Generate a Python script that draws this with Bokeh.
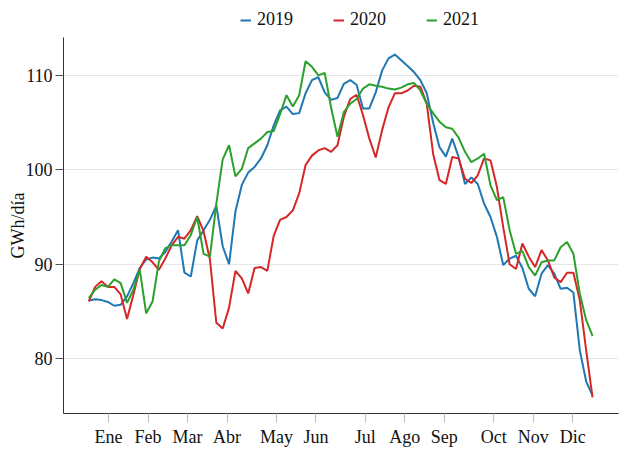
import numpy as np
from bokeh.plotting import figure
from bokeh.layouts import column
from bokeh.models import Range1d, FixedTicker, Legend, LegendItem
from bokeh.embed import file_html
from bokeh.resources import INLINE

meses = ["Ene", "Feb", "Mar", "Abr", "May", "Jun", "Jul", "Ago", "Sep", "Oct", "Nov", "Dic"]
semana_mes = [3, 7, 11, 15, 20, 24, 29, 33, 37, 42, 46, 50]
y_ticks = [80, 90, 100, 110]
series = ["2019", "2020", "2021"]
colores = ["#1f77b4", "#d62728", "#2ca02c"]

v2019 = [86.16, 86.3, 86.2, 86.0, 85.6, 85.7, 86.6, 88.0, 89.6, 90.5,
         90.7, 90.6, 91.3, 92.4, 93.6, 89.1, 88.7, 92.5, 93.6, 94.7,
         96.2, 91.9, 90.0, 95.6, 98.4, 99.7, 100.3, 101.2, 102.6, 104.7,
         106.3, 106.7, 105.9, 106.0, 108.1, 109.5, 109.8, 108.2, 107.4, 107.6,
         109.1, 109.5, 109.0, 106.5, 106.5, 108.2, 110.5, 111.8, 112.2, 111.6,
         111.0, 110.35, 109.5, 108.1, 105.0, 102.4, 101.4, 103.3, 101.35, 98.5,
         99.2, 98.5, 96.4, 95.0, 92.9, 89.9, 90.6, 90.9, 89.6, 87.4,
         86.6, 89.0, 89.9, 89.0, 87.4, 87.5, 87.0, 80.9, 77.6, 76.1]

v2020 = [86.05, 87.6, 88.2, 87.6, 87.6, 86.8, 84.2, 86.8, 89.5, 90.8,
         90.2, 89.4, 90.6, 92.0, 92.9, 92.7, 93.6, 95.1, 93.5, 90.5,
         83.8, 83.2, 85.4, 89.3, 88.5, 86.9, 89.6, 89.7, 89.3, 93.0,
         94.7, 95.0, 95.7, 97.5, 100.5, 101.5, 102.05, 102.3, 101.9, 102.6,
         105.6, 107.5, 107.95, 105.8, 103.3, 101.3, 104.2, 106.6, 108.1, 108.1,
         108.4, 108.9, 108.8, 107.0, 101.7, 98.9, 98.5, 101.35, 101.2, 99.05,
         98.6, 99.4, 101.2, 101.0, 98.2, 93.9, 90.0, 89.5, 92.2, 90.8,
         89.7, 91.5, 90.4, 88.6, 88.1, 89.1, 89.1, 86.2, 80.9, 75.9]

v2021 = [86.4, 87.3, 87.8, 87.6, 88.4, 88.0, 85.9, 87.3, 89.4, 84.8,
         86.05, 90.3, 91.7, 92.0, 92.0, 92.0, 93.1, 95.0, 91.1, 90.8,
         96.4, 101.1, 102.6, 99.3, 100.1, 102.3, 102.8, 103.3, 104.0, 104.1,
         105.9, 107.9, 106.7, 107.9, 111.5, 110.9, 110.0, 110.25, 106.6, 103.5,
         106.1, 107.0, 107.5, 108.6, 109.05, 108.9, 108.8, 108.6, 108.5, 108.7,
         109.05, 109.2, 108.4, 107.0, 106.0, 105.1, 104.5, 104.35, 103.4, 101.9,
         100.8, 101.2, 101.7, 98.35, 96.8, 97.1, 93.6, 91.1, 91.4, 89.7,
         88.8, 90.2, 90.4, 90.4, 91.8, 92.35, 91.1, 86.9, 84.1, 82.4]

valores = [v2019, v2020, v2021]
semana = np.linspace(1, 52, len(v2019))

FONT = "Liberation Serif"
W = 622

# --- legend strip on top (its frame is aligned with the main chart's frame) ---
pl = figure(width=W, height=37, output_backend="svg", toolbar_location=None,
            x_range=Range1d(-10, -9), y_range=Range1d(0, 1),
            min_border_left=63, min_border_right=4, min_border_top=0, min_border_bottom=0)
pl.axis.visible = False
pl.grid.visible = False
pl.outline_line_color = None
items = []
for nombre, vals, col in zip(series, valores, colores):
    r = pl.line(semana, vals, line_color=col, line_width=2)
    items.append(LegendItem(label=nombre, renderers=[r]))
legend = Legend(items=items, orientation="horizontal", location=(177, 7),
                glyph_width=11, glyph_height=18, label_height=18, label_standoff=6,
                spacing=40, padding=0, margin=0, border_line_color=None,
                background_fill_alpha=0, label_text_font=FONT,
                label_text_font_size="18px", label_text_color="#111111")
pl.add_layout(legend)

# --- main chart ---
p = figure(width=W, height=412, output_backend="svg", toolbar_location=None,
           x_range=Range1d(-1.56, 54.63), y_range=Range1d(74.19, 114.01),
           min_border_left=63, min_border_right=4, min_border_top=0, min_border_bottom=35)
p.outline_line_color = None
p.background_fill_color = "white"
p.border_fill_color = "white"

for vals, col in zip(valores, colores):
    p.line(semana, vals, line_color=col, line_width=2)

p.xgrid.grid_line_color = None
p.ygrid.grid_line_color = "#e6e6e6"
p.ygrid.grid_line_width = 1

xa = p.xaxis[0]
xa.ticker = FixedTicker(ticks=semana_mes)
xa.major_label_overrides = {t: m for t, m in zip(semana_mes, meses)}
xa.minor_tick_line_color = None
xa.major_tick_out = 9
xa.major_tick_in = 0
xa.major_tick_line_color = "#bbbbbb"
xa.axis_line_color = "#333333"
xa.major_label_standoff = 4
xa.major_label_text_font = FONT
xa.major_label_text_font_size = "18px"
xa.major_label_text_color = "#111111"

ya = p.yaxis[0]
ya.ticker = FixedTicker(ticks=y_ticks)
ya.minor_tick_line_color = None
ya.major_tick_out = 8
ya.major_tick_in = 0
ya.major_tick_line_color = "#555555"
ya.axis_line_color = "#333333"
ya.major_label_standoff = 3
ya.major_label_text_font = FONT
ya.major_label_text_font_size = "18px"
ya.major_label_text_color = "#111111"
ya.axis_label = "GWh/día"
ya.axis_label_text_font = FONT
ya.axis_label_text_font_size = "18px"
ya.axis_label_text_font_style = "normal"
ya.axis_label_text_color = "#111111"
ya.axis_label_standoff = -5

layout = column(pl, p, spacing=0)
open("out.html", "w").write(file_html(layout, INLINE))
